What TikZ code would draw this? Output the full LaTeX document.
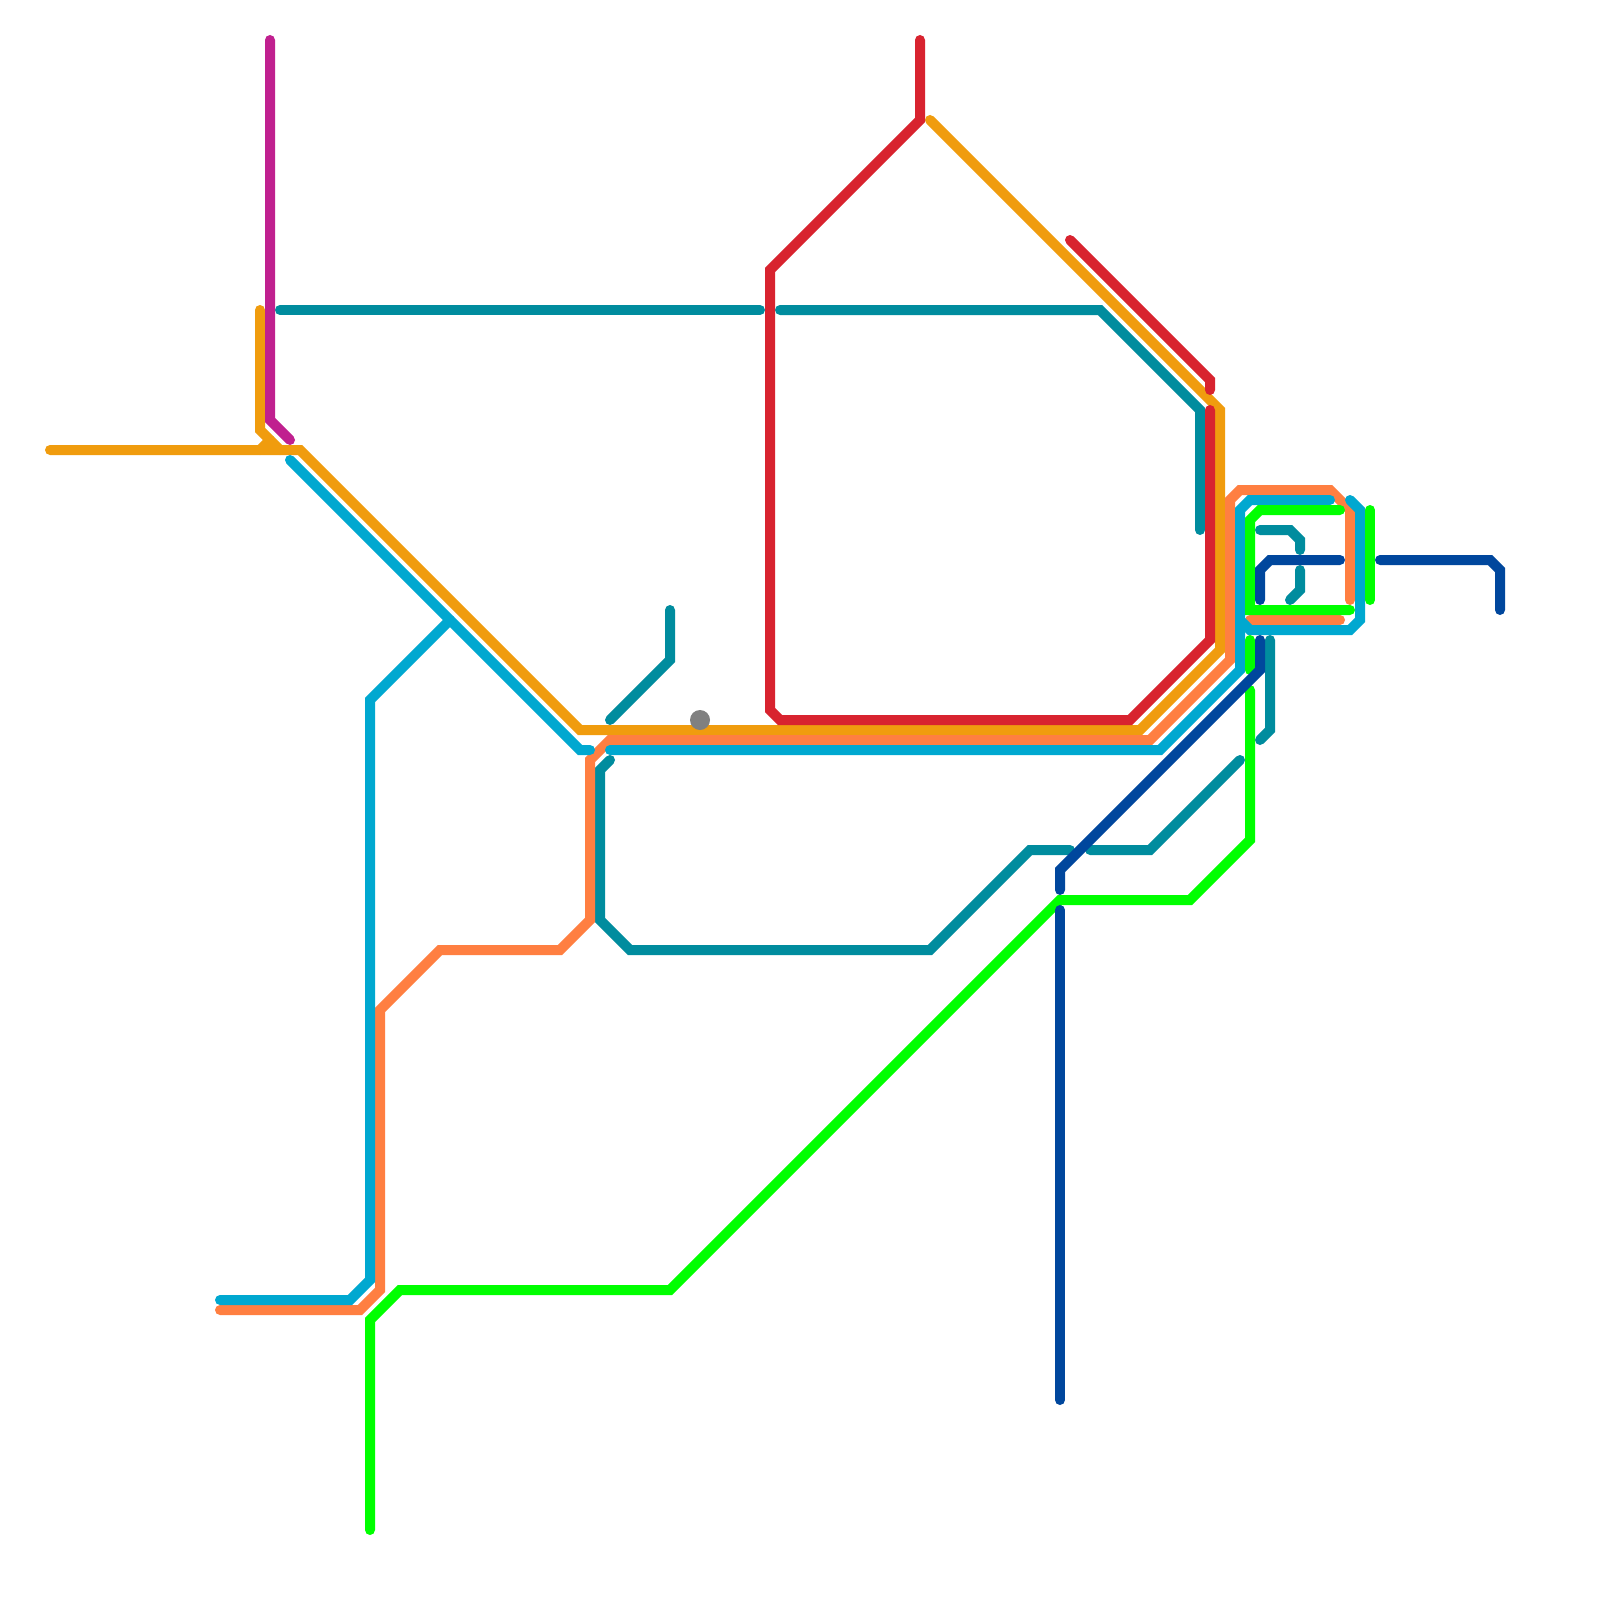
\documentclass[tikz,border=0pt]{standalone}
\definecolor{cAmber}{HTML}{F09C0E}
\definecolor{cCoral}{HTML}{FF7F41}
\definecolor{cBlue}{HTML}{00A8D0}
\definecolor{cRed}{HTML}{D8232F}
\definecolor{cTeal}{HTML}{008C9E}
\definecolor{cNavy}{HTML}{00479D}
\definecolor{cMag}{HTML}{C0208F}
\definecolor{cGreen}{HTML}{00FF00}
\tikzset{metro/.style={line width=10pt,line cap=round,line join=miter,miter limit=10}}
\begin{document}
\begin{tikzpicture}[x=1pt,y=-1pt]
\useasboundingbox (0,0) rectangle (1600,1600);
\fill[white] (0,0) rectangle (1600,1600);
% teal
\begin{scope}[metro,cTeal]
\draw (280,310) -- (760,310);
\draw (780,310) -- (1100,310) -- (1200,410) -- (1200,530);
\draw (610,720) -- (670,660) -- (670,610);
\draw (1270,640) -- (1270,730) -- (1260,740);
\draw (1240,760) -- (1150,850) -- (1090,850);
\draw (1070,850) -- (1030,850) -- (930,950) -- (630,950) -- (600,920) -- (600,770) -- (610,760);
\draw (1260,530) -- (1290,530) -- (1300,540) -- (1300,550);
\draw (1300,570) -- (1300,590) -- (1290,600);
\end{scope}
% amber
\begin{scope}[metro,cAmber]
\draw (260,310) -- (260,430) -- (280,450);
\draw (260,450) -- (270,440);
\draw (50,450) -- (300,450) -- (580,730) -- (1140,730) -- (1220,650) -- (1220,410) -- (930,120);
\end{scope}
% magenta
\draw[metro,cMag] (270,40) -- (270,420) -- (290,440);
% red
\begin{scope}[metro,cRed]
\draw (920,40) -- (920,120) -- (770,270) -- (770,710) -- (780,720) -- (1130,720) -- (1210,640) -- (1210,410);
\draw (1070,240) -- (1210,380) -- (1210,390);
\end{scope}
% coral
\begin{scope}[metro,cCoral]
\draw (220,1310) -- (360,1310) -- (380,1290) -- (380,1010) -- (440,950) -- (560,950) -- (590,920) -- (590,760) -- (610,740) -- (1150,740) -- (1230,660) -- (1230,500) -- (1240,490) -- (1330,490) -- (1350,510) -- (1350,600);
\draw (1340,620) -- (1250,620);
\end{scope}
% blue
\begin{scope}[metro,cBlue]
\draw (290,460) -- (580,750) -- (590,750);
\draw (450,620) -- (370,700) -- (370,1280) -- (350,1300) -- (220,1300);
\draw (610,750) -- (1160,750) -- (1240,670) -- (1240,510) -- (1250,500) -- (1330,500);
\draw (1350,500) -- (1360,510) -- (1360,620) -- (1350,630) -- (1250,630) -- (1240,620);
\end{scope}
% green
\begin{scope}[metro,cGreen]
\draw (370,1530) -- (370,1320) -- (400,1290) -- (670,1290) -- (1060,900) -- (1190,900) -- (1250,840) -- (1250,690);
\draw (1250,640) -- (1250,670);
\draw (1340,510) -- (1260,510) -- (1250,520) -- (1250,610) -- (1350,610);
\draw (1370,510) -- (1370,600);
\end{scope}
% navy
\begin{scope}[metro,cNavy]
\draw (1260,600) -- (1260,570) -- (1270,560) -- (1340,560);
\draw (1380,560) -- (1490,560) -- (1500,570) -- (1500,610);
\draw (1060,1400) -- (1060,910);
\draw (1060,890) -- (1060,870) -- (1260,670) -- (1260,640);
\end{scope}
\fill[gray] (700,720) circle (10);
\end{tikzpicture}
\end{document}
